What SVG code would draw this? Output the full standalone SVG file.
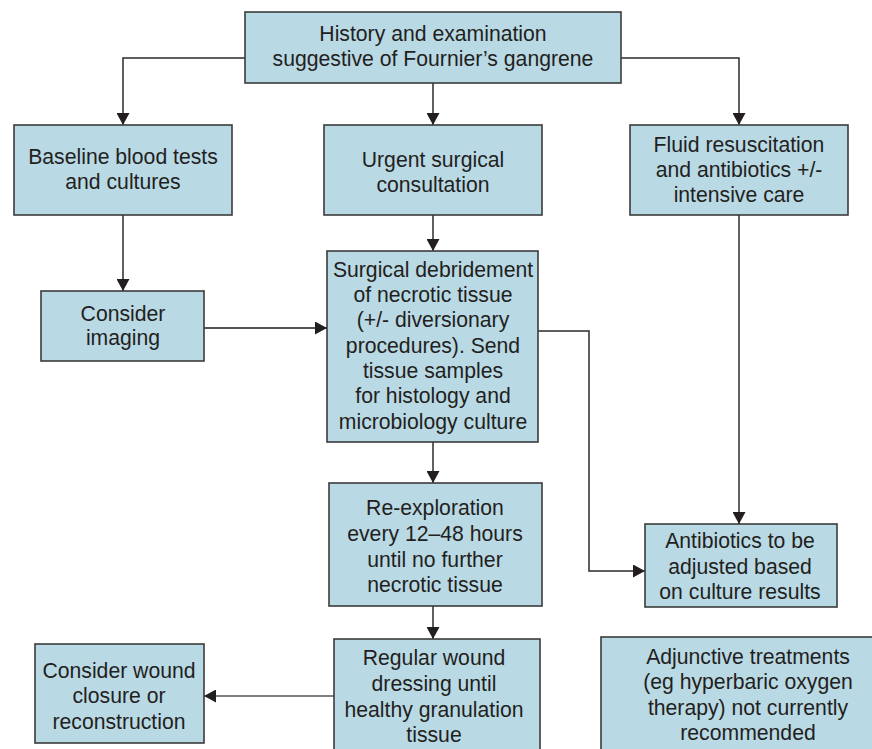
<svg xmlns="http://www.w3.org/2000/svg" width="872" height="749" viewBox="0 0 872 749">
<style>
.box{fill:#b9d9e5;stroke:#3b3b3b;stroke-width:1.6}
.t{font-family:"Liberation Sans",Arial,sans-serif;font-size:21.2px;fill:#231f20;text-anchor:middle}
.c{fill:none;stroke:#2b2b2b;stroke-width:1.5}
</style>
<defs>
<marker id="ah" markerUnits="userSpaceOnUse" markerWidth="12" markerHeight="13" refX="12" refY="6.5" orient="auto">
<path d="M0,0 L12,6.5 L0,13 Z" fill="#231f20"/>
</marker>
</defs>
<rect width="872" height="749" fill="#ffffff"/>
<g id="connectors">
<path class="c" d="M245,58 H123 V125" marker-end="url(#ah)"/>
<path class="c" d="M433,83 V125" marker-end="url(#ah)"/>
<path class="c" d="M621,58 H739 V125" marker-end="url(#ah)"/>
<path class="c" d="M123,215 V291" marker-end="url(#ah)"/>
<path class="c" d="M433,215 V251" marker-end="url(#ah)"/>
<path class="c" d="M204,328 H327" marker-end="url(#ah)" style="stroke:#555;stroke-width:2"/>
<path class="c" d="M538,331 H589 V571 H645" marker-end="url(#ah)"/>
<path class="c" d="M739,215 V524" marker-end="url(#ah)"/>
<path class="c" d="M433,442 V483" marker-end="url(#ah)"/>
<path class="c" d="M433,606 V639" marker-end="url(#ah)"/>
<path class="c" d="M334,696 H204" marker-end="url(#ah)" style="stroke:#555"/>
</g>
<g id="start">
<rect class="box" x="245" y="12" width="376" height="71"/>
<text class="t" x="433" y="41">History and examination</text>
<text class="t" x="433" y="66">suggestive of Fournier’s gangrene</text>
</g>
<g id="baseline">
<rect class="box" x="14" y="125" width="218" height="90"/>
<text class="t" x="123" y="164">Baseline blood tests</text>
<text class="t" x="123" y="189">and cultures</text>
</g>
<g id="urgent">
<rect class="box" x="324" y="125" width="218" height="90"/>
<text class="t" x="433" y="167">Urgent surgical</text>
<text class="t" x="433" y="192">consultation</text>
</g>
<g id="fluid">
<rect class="box" x="630" y="125" width="218" height="90"/>
<text class="t" x="739" y="152">Fluid resuscitation</text>
<text class="t" x="739" y="177">and antibiotics +/-</text>
<text class="t" x="739" y="202">intensive care</text>
</g>
<g id="imaging">
<rect class="box" x="41" y="291" width="163" height="70"/>
<text class="t" x="123" y="321">Consider</text>
<text class="t" x="123" y="345">imaging</text>
</g>
<g id="debridement">
<rect class="box" x="327" y="251" width="211" height="191"/>
<text class="t" x="433" y="277">Surgical debridement</text>
<text class="t" x="433" y="302">of necrotic tissue</text>
<text class="t" x="433" y="327">(+/- diversionary</text>
<text class="t" x="433" y="353">procedures). Send</text>
<text class="t" x="433" y="378">tissue samples</text>
<text class="t" x="433" y="403">for histology and</text>
<text class="t" x="433" y="429">microbiology culture</text>
</g>
<g id="reexploration">
<rect class="box" x="329" y="483" width="213" height="123"/>
<text class="t" x="435" y="515">Re-exploration</text>
<text class="t" x="435" y="541">every 12–48 hours</text>
<text class="t" x="435" y="567">until no further</text>
<text class="t" x="435" y="592">necrotic tissue</text>
</g>
<g id="antibiotics">
<rect class="box" x="645" y="524" width="192" height="83"/>
<text class="t" x="740" y="548">Antibiotics to be</text>
<text class="t" x="740" y="574">adjusted based</text>
<text class="t" x="740" y="599">on culture results</text>
</g>
<g id="wound">
<rect class="box" x="35" y="644" width="169" height="99"/>
<text class="t" x="119" y="678">Consider wound</text>
<text class="t" x="119" y="703">closure or</text>
<text class="t" x="119" y="729">reconstruction</text>
</g>
<g id="dressing">
<rect class="box" x="334" y="639" width="206" height="120"/>
<text class="t" x="434" y="665">Regular wound</text>
<text class="t" x="434" y="691">dressing until</text>
<text class="t" x="434" y="717">healthy granulation</text>
<text class="t" x="434" y="742">tissue</text>
</g>
<g id="adjunctive">
<rect class="box" x="601" y="637" width="300" height="130"/>
<text class="t" x="748" y="664">Adjunctive treatments</text>
<text class="t" x="748" y="689">(eg hyperbaric oxygen</text>
<text class="t" x="748" y="715">therapy) not currently</text>
<text class="t" x="748" y="740">recommended</text>
</g>
</svg>
